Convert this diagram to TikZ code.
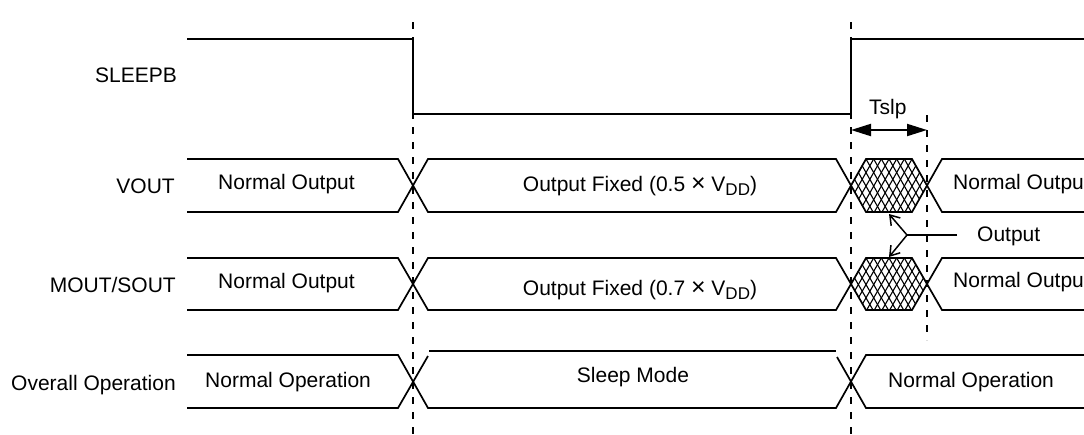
\documentclass[tikz,border=0pt]{standalone}
\usepackage{fontspec}
\setmainfont{Liberation Sans}
\usetikzlibrary{arrows.meta}
\begin{document}
\begin{tikzpicture}[x=1pt,y=-1pt,
  sig/.style={line width=1.7pt, line join=miter},
  vdash/.style={line width=2pt, dash pattern=on 7pt off 8pt},
  hatch/.style={line width=1.1pt},
  txt/.style={inner sep=0pt, font=\fontsize{21}{25}\selectfont},
  lbl/.style={txt, anchor=base east},
  lt/.style={txt, anchor=base west},
  ct/.style={txt, anchor=base}]
\clip (0,0) rectangle (1084,434);
\fill[white] (0,0) rectangle (1084,434);

% SLEEPB waveform
\draw[sig] (187,39) -- (413,39) -- (413,114) -- (851,114) -- (851,39) -- (1090,39);

% VOUT and MOUT/SOUT buses
\foreach \t/\b in {159/212, 258/310} {
  \pgfmathsetmacro\m{(\t+\b)/2}
  \draw[sig] (187,\t) -- (398,\t) -- (428,\b) -- (836,\b) -- (866,\t) -- (912,\t) -- (942,\b) -- (1090,\b);
  \draw[sig] (187,\b) -- (398,\b) -- (428,\t) -- (836,\t) -- (866,\b) -- (912,\b) -- (942,\t) -- (1090,\t);
  \begin{scope}
    \clip (851,\m) -- (866,\t) -- (912,\t) -- (927,\m) -- (912,\b) -- (866,\b) -- cycle;
    \foreach \k in {-8,...,10} {
      \draw[hatch] ({866+\k*7.667},\t) -- ++(30,{\b-\t});
      \draw[hatch] ({866+\k*7.667},\t) -- ++(-30,{\b-\t});
    }
  \end{scope}
}

% Overall operation bus
\draw[sig] (187,355) -- (398,355) -- (428,408) -- (836,408) -- (866,355) -- (1090,355);
\draw[sig] (187,408) -- (398,408) -- (428,356);
\draw[sig] (429,351) -- (836,351);
\draw[sig] (837,357) -- (866,408) -- (1090,408);

% dashed markers
\draw[vdash] (413,22) -- (413,434);
\draw[vdash] (851,22) -- (851,434);
\draw[vdash] (927,115) -- (927,340);

% Tslp
\coordinate (ta) at (851,130);
\coordinate (tb) at (927,130);
\draw[line width=2pt, {Triangle[length=20pt,width=12pt]}-{Triangle[length=20pt,width=12pt]}] (ta) -- (tb);
\node[lt] (tslp) at (869,114) {Tslp};

% Output pointer
\node[lt] (outl) at (977,241) {Output};
\coordinate (oe) at (957,235);
\coordinate (br) at (907,235);
\coordinate (t1) at (889,214);
\coordinate (t2) at (889,257);
\draw[line width=1.5pt] (oe) -- (br);
\draw[line width=1.5pt, -{Straight Barb[length=9pt,width=12pt]}] (br) -- (t1);
\draw[line width=1.5pt, -{Straight Barb[length=9pt,width=12pt]}] (br) -- (t2);

% signal names
\node[lbl] (n1) at (177,82) {SLEEPB};
\node[lbl] (n2) at (175,193) {VOUT};
\node[lbl] (n3) at (176,292) {MOUT/SOUT};
\node[lbl] (n4) at (176,390) {Overall Operation};

% bus texts
\node[lt] (a1) at (218,189) {Normal Output};
\node[ct] (a2) at (640,191) {Output Fixed (0.5 {\fontsize{25}{25}\selectfont ×} V\raisebox{-0.22em}{\fontsize{17}{17}\selectfont DD})};
\node[lt] (a3) at (953,189) {Normal Output};
\node[lt] (b1) at (218,288) {Normal Output};
\node[ct] (b2) at (640,295) {Output Fixed (0.7 {\fontsize{25}{25}\selectfont ×} V\raisebox{-0.22em}{\fontsize{17}{17}\selectfont DD})};
\node[lt] (b3) at (953,287) {Normal Output};
\node[lt] (c1) at (205,387) {Normal Operation};
\node[ct] (c2) at (633,382) {Sleep Mode};
\node[lt] (c3) at (888,387) {Normal Operation};
\end{tikzpicture}
\end{document}
